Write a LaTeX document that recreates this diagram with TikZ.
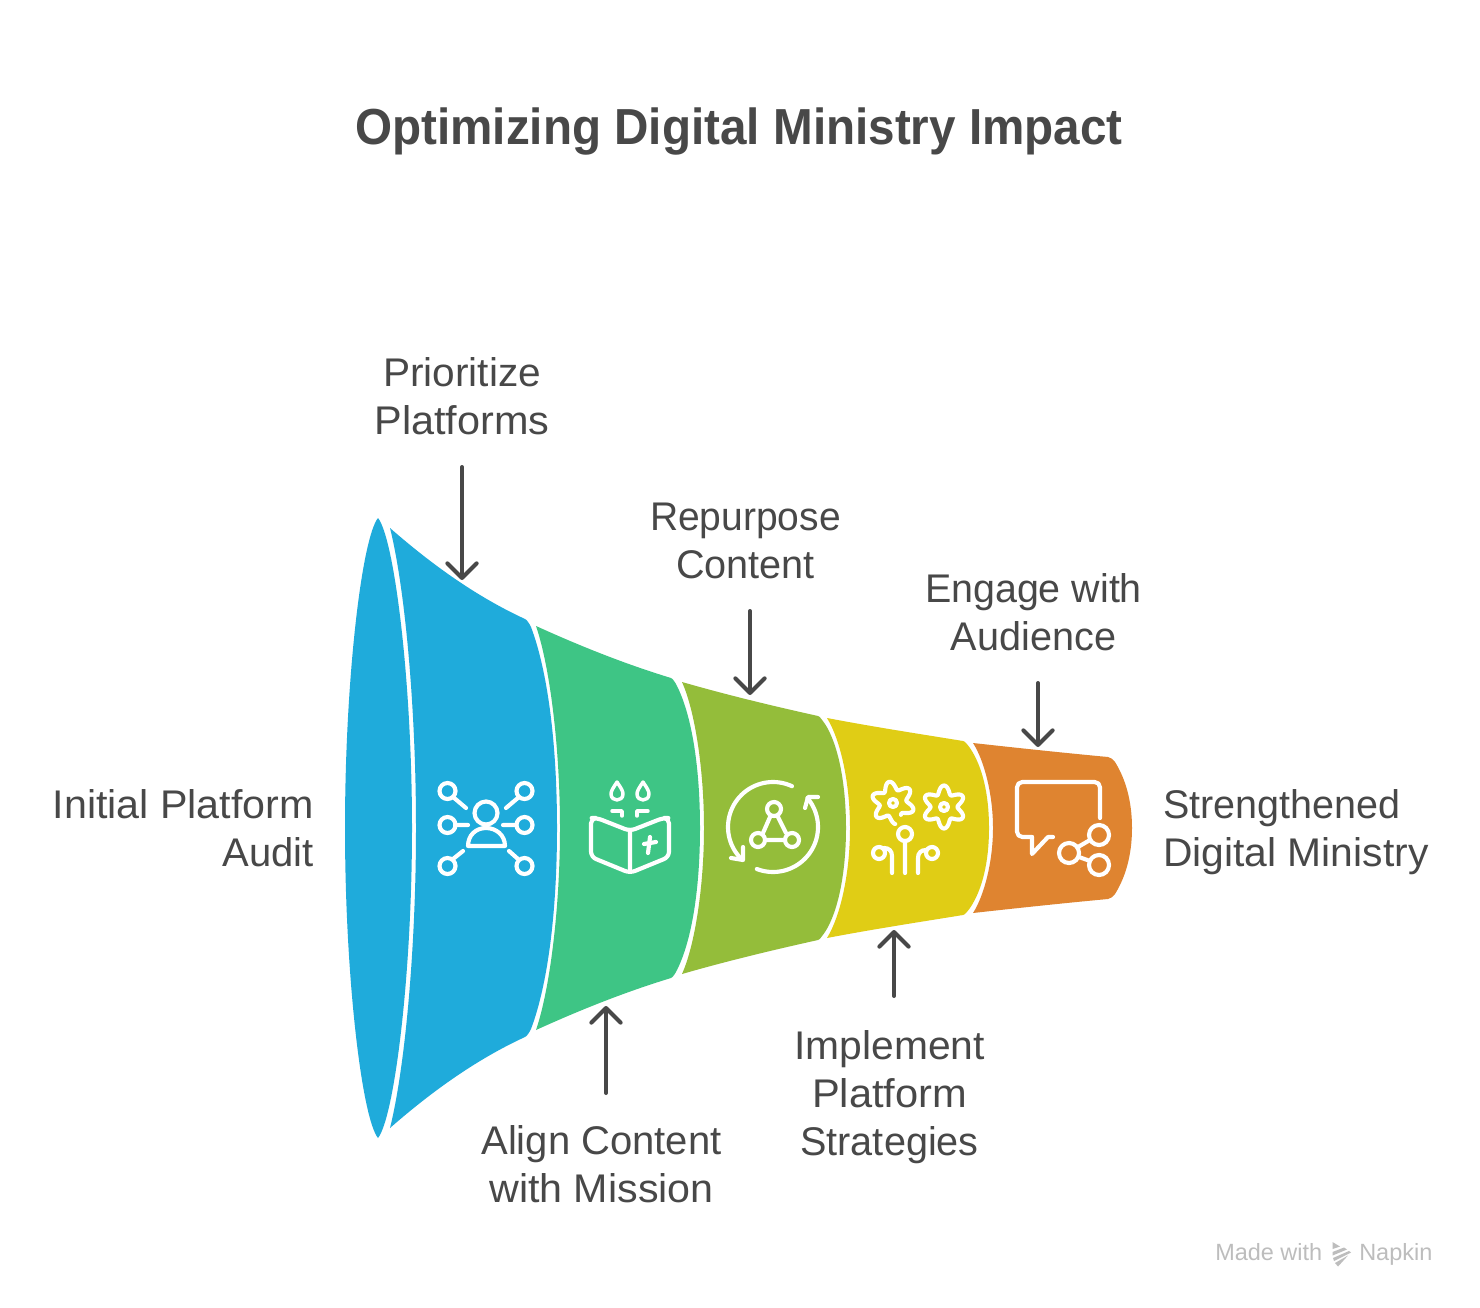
\documentclass[tikz,border=0pt]{standalone}
\usepackage{fontspec}
\setmainfont{Liberation Sans}
\newfontfamily\labelfont{Liberation Sans}
\newfontfamily\titlefont[FakeStretch=0.94]{Liberation Sans Bold}
\usetikzlibrary{arrows.meta}
\definecolor{txt}{HTML}{484848}
\definecolor{cblue}{HTML}{1FABDB}
\definecolor{cgreen}{HTML}{3EC585}
\definecolor{colive}{HTML}{94BD3A}
\definecolor{cyellow}{HTML}{E0CD15}
\definecolor{corange}{HTML}{DF8430}
\definecolor{cmark}{HTML}{BDBDBD}
\newcommand{\strline}[2]{{\addfontfeature{FakeStretch=#1}#2}}
\tikzset{
  x=0.75pt,y=-0.75pt,
  lab/.style={font=\labelfont\fontsize{30}{36}\selectfont,text=txt,inner sep=0pt,align=center},
  callout/.style={draw=txt,line width=3pt,line cap=round,line join=round,-{Straight Barb[length=11pt,width=22pt,line width=3pt,round]}},
  icon/.style={draw=white,line width=3.1pt,line cap=round,line join=round},
  markfont/.style={font=\fontsize{17.6}{20}\selectfont,text=cmark,inner sep=0pt}
}
\begin{document}
\begin{tikzpicture}
\useasboundingbox (0,0) rectangle (1480,1308);
\fill[white] (0,0) rectangle (1480,1308);
\node[font=\titlefont\fontsize{38}{44}\selectfont,text=txt,inner sep=0pt] (title) at (739,131.5) {Optimizing Digital Ministry Impact};

% funnel
\begin{scope}[shift={(0,828)}]
  \fill[cblue] (378,-310) .. controls (362,-290) and (345,-150) .. (345,0)
     .. controls (345,150) and (362,290) .. (378,310)
     .. controls (394,290) and (412,150) .. (412,0)
     .. controls (412,-150) and (394,-290) .. cycle;
  \fill[cblue] (390,-300) .. controls (430,-265) and (475,-232) .. (525,-209)
    .. controls (527,-208) and (529,-205) .. (531,-201)
    .. controls (548,-156) and (557,-83) .. (557,0)
    .. controls (557,83) and (548,156) .. (531,201)
    .. controls (529,205) and (527,208) .. (525,209)
    .. controls (475,232) and (430,265) .. (390,300)
    .. controls (405,240) and (416,120) .. (416,0)
    .. controls (416,-120) and (405,-240) .. cycle;
  \fill[cgreen] (536,-202) .. controls (580,-182) and (625,-164) .. (671,-150)
    .. controls (673,-149) and (675,-146) .. (677,-142)
    .. controls (692,-112) and (700,-60) .. (700,0)
    .. controls (700,60) and (692,112) .. (677,142)
    .. controls (675,146) and (673,149) .. (671,150)
    .. controls (625,164) and (580,182) .. (536,202)
    .. controls (550,161) and (560,80) .. (560,0)
    .. controls (560,-80) and (550,-161) .. cycle;
  \fill[colive] (682,-146) .. controls (727,-133) and (773,-122) .. (818,-112)
    .. controls (820,-111.5) and (822,-108) .. (825,-104)
    .. controls (838,-84) and (846,-45) .. (846,0)
    .. controls (846,45) and (838,84) .. (825,104)
    .. controls (822,108) and (820,111.5) .. (818,112)
    .. controls (773,122) and (727,133) .. (682,146)
    .. controls (695,117) and (704,58) .. (704,0)
    .. controls (704,-58) and (695,-117) .. cycle;
  \fill[cyellow] (827,-110) .. controls (874,-101) and (920,-94) .. (963,-87)
    .. controls (965,-86.5) and (967,-84) .. (970,-80)
    .. controls (982,-62) and (989,-35) .. (989,0)
    .. controls (989,35) and (982,62) .. (970,80)
    .. controls (967,84) and (965,86.5) .. (963,87)
    .. controls (920,94) and (874,101) .. (827,110)
    .. controls (841,87) and (850,44) .. (850,0)
    .. controls (850,-44) and (841,-87) .. cycle;
  \fill[corange] (973,-85) .. controls (1018,-80) and (1065,-75) .. (1108,-71)
    .. controls (1111,-70) and (1113,-69) .. (1115,-66)
    .. controls (1125,-50) and (1132,-28) .. (1132,0)
    .. controls (1132,28) and (1125,50) .. (1115,66)
    .. controls (1113,69) and (1111,70) .. (1108,71)
    .. controls (1065,75) and (1018,80) .. (973,85)
    .. controls (984,68) and (993,34) .. (993,0)
    .. controls (993,-34) and (984,-68) .. cycle;
\end{scope}

% icon 1
\draw[icon] (447.5,791) circle[radius=8] (524.5,791) circle[radius=8]
  (447.5,825) circle[radius=8] (524.5,825) circle[radius=8]
  (447.5,866) circle[radius=8] (524.5,866) circle[radius=8]
  (486,813) circle[radius=11.5];
\draw[icon] (468,846) .. controls (468,835) and (476,828) .. (486,828) .. controls (496,828) and (505,835) .. (505,846) -- cycle;
\draw[icon] (453,797) -- (466,808) (519,797) -- (506,808) (455,825) -- (468,825)
  (516,825) -- (503,825) (463,851) -- (453,859) (509,851) -- (518,859);

% icon 2
\draw[icon,line width=2.6pt] (617,782) .. controls (613,788) and (611,791) .. (611,794) .. controls (611,802) and (623,802) .. (623,794) .. controls (623,791) and (621,788) .. cycle;
\draw[icon,line width=2.6pt] (643,782) .. controls (639,788) and (637,791) .. (637,794) .. controls (637,802) and (649,802) .. (649,794) .. controls (649,791) and (647,788) .. cycle;
\draw[icon,line width=2.6pt] (612,811) -- (622,811) -- (622,816) (648,811) -- (637,811) -- (637,816);
\draw[icon,rounded corners=4pt] (630,831) -- (597,818) -- (591,818) -- (591,857) -- (630,873) -- (669,857) -- (669,818) -- (663,818) -- cycle;
\draw[icon] (630,831) -- (630,871) (650,837) -- (648,853) (644,844) -- (656,842);

% icon 3
\draw[icon] plot[domain=-65:-223,samples=40,smooth] ({773+45*cos(\x)},{827+45*sin(\x)});
\draw[icon] plot[domain=111:-40,samples=40,smooth] ({773+45*cos(\x)},{827+45*sin(\x)});
\draw[icon] (805,808) -- (808,797) -- (818,797) (731,858) -- (743,860) -- (743,847);
\draw[icon] (774,809) circle[radius=7] (758,840) circle[radius=7] (792,840) circle[radius=7];
\draw[icon] (770,817) -- (763,833) (778,817) -- (786,833) (765,840) -- (785,840);

% icon 4
\draw[icon] plot[domain=84:416,samples=150,smooth] ({893+(17.5+4*cos(6*(\x-20)))*cos(\x)},{803+(17.5+4*cos(6*(\x-20)))*sin(\x)});
\draw[icon] (893,803) circle[radius=4];
\draw[icon] plot[domain=0:360,samples=150,smooth cycle] ({944+(17.5-4*cos(6*\x))*cos(\x)},{807+(17.5-4*cos(6*\x))*sin(\x)});
\draw[icon] (944,807) circle[radius=4];
\draw[icon] (905,834) circle[radius=7] (905,842) -- (905,873);
\draw[icon] (879,853) circle[radius=6] (884,848) .. controls (889,848) and (892,851) .. (892,856) -- (892,873);
\draw[icon] (932,853) circle[radius=6] (918,873) -- (918,858) .. controls (918,853) and (921,850) .. (926,850);

% icon 5
\draw[icon,rounded corners=4pt] (1100,818) -- (1100,782) -- (1017,782) -- (1017,837) -- (1032,837);
\draw[icon] (1032,837) -- (1032,854) -- (1048,837) -- (1053,837);
\draw[icon] (1099,835) circle[radius=10] (1069,853) circle[radius=10] (1099,865) circle[radius=10];
\draw[icon] (1078,847) -- (1090,840) (1079,857) -- (1090,861);

% labels
\node[lab] (prior) at (462,396) {\strline{1.015}{Prioritize}\\\strline{1.035}{Platforms}};
\node[lab] (repur) at (745.5,541) {\strline{.975}{Repurpose}\\\strline{.99}{Content}};
\node[lab] (engage) at (1033.5,612) {\strline{.985}{Engage with}\\\strline{.99}{Audience}};
\node[lab,anchor=east,align=right] (initial) at (314,828) {\strline{1.03}{Initial Platform}\\\strline{1.0}{Audit}};
\node[lab,anchor=west,align=left] (strength) at (1163,832) {\strline{.987}{Strengthened}\\\strline{1.02}{Digital Ministry}};
\node[lab] (align) at (601.5,1164) {\strline{1.0}{Align Content}\\\strline{1.03}{with Mission}};
\node[lab] (impl) at (889.5,1097) {\strline{1.02}{Implement}\\\strline{1.04}{Platform}\\\strline{.99}{Strategies}};

% callouts
\coordinate (p1) at (462,467); \coordinate (q1) at (462,580);
\coordinate (p2) at (750,611); \coordinate (q2) at (750,695);
\coordinate (p3) at (1038,683); \coordinate (q3) at (1038,747);
\coordinate (p4) at (606,1093); \coordinate (q4) at (606,1006);
\coordinate (p5) at (894,996); \coordinate (q5) at (894,930);
\draw[callout] (p1) -- (q1);
\draw[callout] (p2) -- (q2);
\draw[callout] (p3) -- (q3);
\draw[callout] (p4) -- (q4);
\draw[callout] (p5) -- (q5);

% watermark
\node[markfont,anchor=base west] (made) at (1215,1260) {Made with};
\node[markfont,anchor=base west] (napkin) at (1359,1260) {Napkin};
\fill[cmark] (1332.5,1242) -- (1340,1246.5) -- (1332.5,1249) -- cycle;
\fill[cmark] (1332.5,1252) -- (1344,1247.5) -- (1347,1249.5) -- (1332.5,1255.5) -- cycle;
\fill[cmark] (1333,1258) -- (1349,1251) -- (1351,1252.5) -- (1334,1261) -- cycle;
\fill[cmark] (1335,1263) -- (1348,1255.5) -- (1338,1266.5) -- cycle;
\end{tikzpicture}
\end{document}
